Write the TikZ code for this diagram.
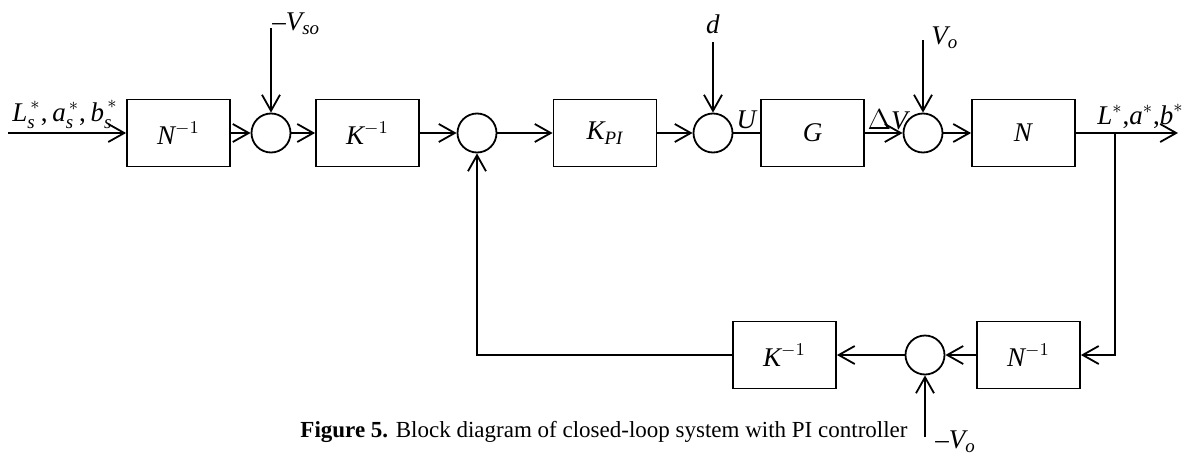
\documentclass[tikz,border=0pt]{standalone}
\usepackage{amsmath}
\usepackage{fontspec}
\setmainfont{Liberation Serif}
\usetikzlibrary{arrows.meta, positioning}

\newcommand{\vi}[1]{\textit{#1}}

\begin{document}
\begin{tikzpicture}[
      x=0.5pt, y=-0.5pt,
      font=\fontsize{13.5}{15}\selectfont,
      block/.style={draw, line width=0.9pt, minimum width=51.5pt,
                    minimum height=33.5pt, inner sep=0pt},
      sumpt/.style={draw, circle, line width=0.9pt, minimum size=19.5pt,
                    inner sep=0pt},
      sig/.style={line width=0.9pt, -{Straight Barb[length=8pt, width=9pt]}},
      wire/.style={line width=0.9pt},
    ]
    \useasboundingbox (0,0) rectangle (1188,455);

    % forward path, row at y = 133
    \node[block] (ninv) at (178.5,133) {$\vi{N}^{-1}$};
    \node[sumpt] (s1) at (271,133) {};
    \node[block] (kinv) at (367.5,133) {$\vi{K}^{-1}$};
    \node[sumpt] (s2) at (477,133) {};
    \node[block] (kpi) at (605,133) {$\vi{K}_{\vi{PI}}$};
    \node[sumpt] (s3) at (713,133) {};
    \node[block] (g) at (812.5,133) {\vi{G}};
    \node[sumpt] (s4) at (923,133) {};
    \node[block] (n) at (1023.5,133) {\vi{N}};

    % feedback path, row at y = 355
    \node[block] (ninvb) at (1028.5,355) {$\vi{N}^{-1}$};
    \node[sumpt] (s5) at (925,355) {};
    \node[block] (kinvb) at (784.5,355) {$\vi{K}^{-1}$};

    % free ends
    \coordinate (in) at (8,133);
    \coordinate (out) at (1178,133);
    \coordinate (tap) at (1115,133);
    \coordinate (vsoin) at (271,28);
    \coordinate (din) at (713,42);
    \coordinate (voin) at (923,40);
    \coordinate (vob) at (925,437);

    % signals
    \draw[sig] (in) -- (ninv);
    \draw[sig] (ninv) -- (s1);
    \draw[sig] (s1) -- (kinv);
    \draw[sig] (kinv) -- (s2);
    \draw[sig] (s2) -- (kpi);
    \draw[sig] (kpi) -- (s3);
    \draw[wire] (s3) -- (g);
    \draw[sig] (g) -- (s4);
    \draw[sig] (s4) -- (n);
    \draw[sig] (n) -- (out);
    \draw[sig] (tap) |- (ninvb);
    \draw[sig] (ninvb) -- (s5);
    \draw[sig] (s5) -- (kinvb);
    \draw[sig] (kinvb.west) -| (s2);

    % external inputs
    \draw[sig] (vsoin) -- (s1);
    \draw[sig] (din) -- (s3);
    \draw[sig] (voin) -- (s4);
    \draw[sig] (vob) -- (s5);

    % labels
    \node[anchor=south west, inner sep=1pt] (lin) at (10,131)
      {$\vi{L}_{\vi{s}}^{\,*}\textup{,}\,\vi{a}_{\vi{s}}^{\,*}\textup{,}\,\vi{b}_{\vi{s}}^{\,*}$};
    \node[anchor=south east, inner sep=1pt] (lout) at (1186,131)
      {$\vi{L}^{*}\textup{,}\vi{a}^{*}\textup{,}\vi{b}^{*}$};
    \node[anchor=west, inner sep=0pt] (lvso) at (272,24) {–$\vi{V}_{\vi{so}}$};
    \node (ld) at (713,24) {\vi{d}};
    \node[anchor=west, inner sep=0pt] (lvo) at (931,38) {$\vi{V}_{\vi{o}}$};
    \node (lu) at (747,120) {\vi{U}};
    \node (ldv) at (889,120) {$\Delta$\vi{V}};
    \node[anchor=west, inner sep=0pt] (lvob) at (935,442) {–$\vi{V}_{\vi{o}}$};

    \node[font=\fontsize{11.5}{13}\selectfont] (cap) at (604,432)
      {\textbf{Figure 5.} Block diagram of closed-loop system with PI controller};
  \end{tikzpicture}
\end{document}
